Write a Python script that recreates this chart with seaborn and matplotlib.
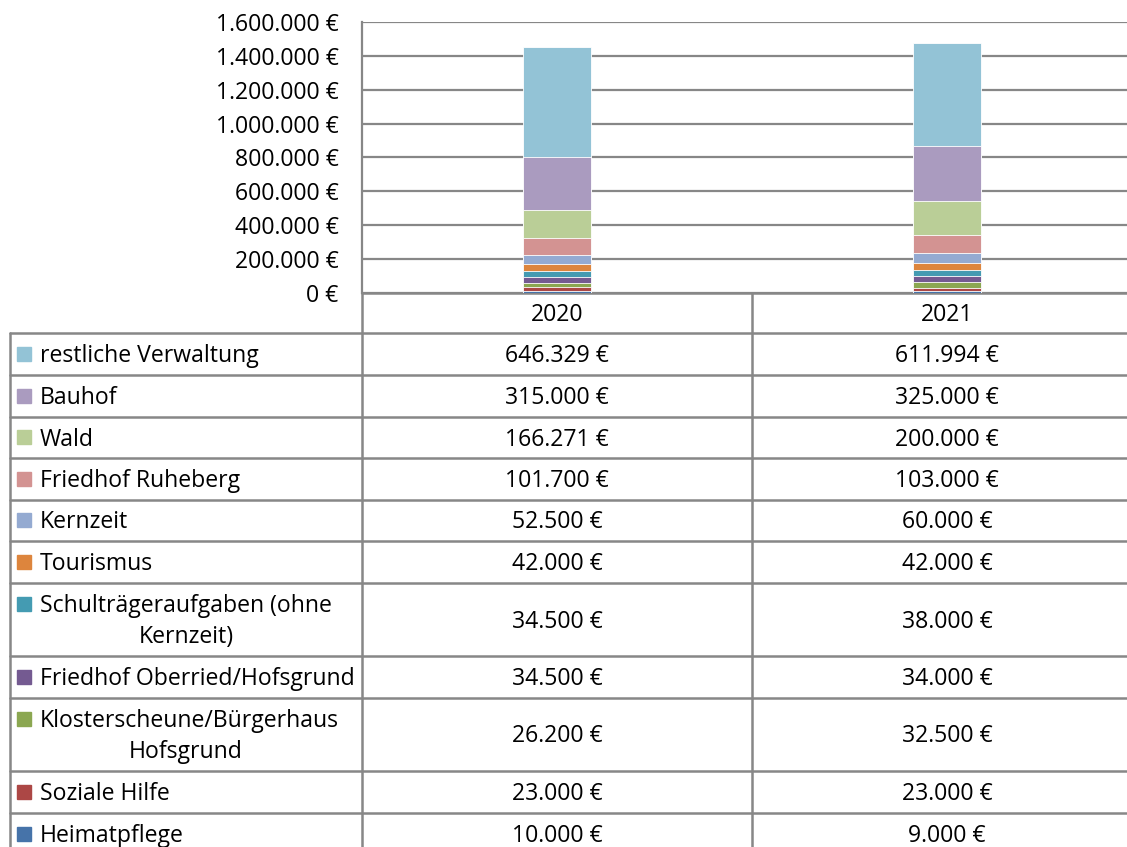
import matplotlib
matplotlib.use("Agg")
import matplotlib.pyplot as plt
from matplotlib.patches import Rectangle
import pandas as pd
import seaborn as sns

years = ["2020", "2021"]
categories = ["restliche Verwaltung", "Bauhof", "Wald", "Friedhof Ruheberg", "Kernzeit",
              "Tourismus", "Schulträgeraufgaben (ohne\nKernzeit)", "Friedhof Oberried/Hofsgrund",
              "Klosterscheune/Bürgerhaus\nHofsgrund", "Soziale Hilfe", "Heimatpflege"]
values_2020 = [646329, 315000, 166271, 101700, 52500, 42000, 34500, 34500, 26200, 23000, 10000]
values_2021 = [611994, 325000, 200000, 103000, 60000, 42000, 38000, 34000, 32500, 23000, 9000]
colors = ["#93C3D6", "#AA9BBF", "#BACE97", "#D39392", "#94AAD1", "#DD853D",
          "#449BB2", "#745A91", "#8BA751", "#AC4745", "#4673A9"]
yticks = [0, 200000, 400000, 600000, 800000, 1000000, 1200000, 1400000, 1600000]


def euro(v):
    return f"{v:,}".replace(",", ".") + " €"


sns.set_style("white")
plt.rcParams["font.family"] = ["Open Sans", "DejaVu Sans"]
plt.rcParams["text.color"] = "black"
plt.rcParams["ytick.color"] = "black"
FS = 16.6
GRID = "#878787"

fig = plt.figure(figsize=(11.27, 8.47), dpi=100)
W, H = 1127, 847

# table layer in pixel coordinates
tax = fig.add_axes([0, 0, 1, 1])
tax.set_xlim(0, W)
tax.set_ylim(H, 0)
tax.axis("off")

# chart area
top, bottom, left, right = 22, 293, 362, 1142
ax = fig.add_axes([left / W, 1 - bottom / H, (right - left) / W, (bottom - top) / H])
ax.set_facecolor("none")

df = pd.DataFrame({"year": years * len(categories),
                   "cat": [c for c in categories for _ in years],
                   "value": [v for pair in zip(values_2020, values_2021) for v in pair]})
# stacked: draw cumulative sums from the top segment down
order = categories[::-1]  # bottom to top
df["cat"] = pd.Categorical(df["cat"], order)
df = df.sort_values(["year", "cat"])
df["cum"] = df.groupby("year")["value"].cumsum()
for cat in categories:
    sub = df[df["cat"] == cat]
    sns.barplot(data=sub, x="year", y="cum", color=colors[categories.index(cat)],
                width=0.172, edgecolor="white", linewidth=0.6, saturation=1,
                ax=ax, zorder=3)

ax.set_xlim(-0.5, 1.5)
ax.set_ylim(0, 1600000)
ax.set_yticks(yticks)
ax.set_yticklabels([euro(t) for t in yticks], fontsize=FS)
ax.tick_params(axis="y", length=0, pad=17)
ax.set_xticks([])
ax.set_xlabel("")
ax.set_ylabel("")
ax.yaxis.grid(True, color=GRID, lw=1.6)
ax.set_axisbelow(True)
for s in ["top", "right", "bottom"]:
    ax.spines[s].set_visible(False)
ax.spines["left"].set_color(GRID)
ax.spines["left"].set_linewidth(1.6)

# table grid
row_edges = [333, 375, 417, 458, 500, 541, 583, 656, 698, 771, 813, 855]
lw = 1.8
tax.plot([left, W], [bottom, bottom], color=GRID, lw=lw)
for y in row_edges:
    tax.plot([10, W], [y, y], color=GRID, lw=lw)
tax.plot([left, left], [bottom, H], color=GRID, lw=lw)
tax.plot([752, 752], [bottom, H], color=GRID, lw=lw)
tax.plot([10, 10], [333, H], color=GRID, lw=lw)

col_centers = [557, 947]
dy = 2  # small downward nudge of text inside cells
for xc, yr in zip(col_centers, years):
    tax.text(xc, 313 + dy, yr, ha="center", va="center", fontsize=FS)

for i, cat in enumerate(categories):
    y0, y1 = row_edges[i], row_edges[i + 1]
    ym = (y0 + y1) / 2
    lines = cat.split("\n")
    if len(lines) == 1:
        ly = ym
    else:
        ly = ym - 15.5
        tax.text(186, ym + 15.5 + dy, lines[1], ha="center", va="center", fontsize=FS)
    tax.add_patch(Rectangle((17, ly - 7), 14, 14, color=colors[i]))
    tax.text(40, ly + dy, lines[0], ha="left", va="center", fontsize=FS)
    tax.text(col_centers[0], ym + dy, euro(values_2020[i]), ha="center", va="center", fontsize=FS)
    tax.text(col_centers[1], ym + dy, euro(values_2021[i]), ha="center", va="center", fontsize=FS)

fig.savefig("out.png", dpi=100)
